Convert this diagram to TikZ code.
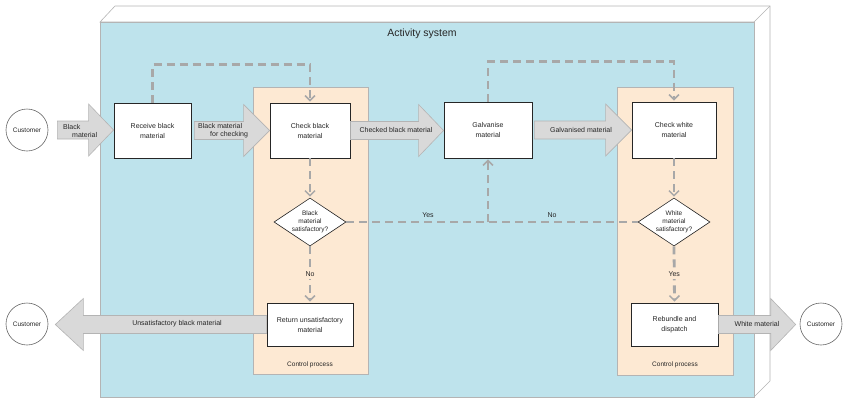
\documentclass[tikz,border=0pt]{standalone}
\usepackage{fontspec}
\setmainfont{Liberation Sans}
\usetikzlibrary{shapes.geometric,arrows.meta,calc}

\definecolor{sysblue}{HTML}{BEE3EC}
\definecolor{ctrlorange}{HTML}{FDE9D3}
\definecolor{flowgrey}{HTML}{D9D9D9}
\definecolor{edgegrey}{HTML}{B4B4B4}
\definecolor{dashgrey}{HTML}{A8A8A8}
\definecolor{inkgrey}{HTML}{262626}

\tikzset{
  task/.style={rectangle,draw=inkgrey,fill=white,line width=0.8pt,align=center,
    minimum width=80,minimum height=55,text=inkgrey,font=\fontsize{7}{10}\selectfont},
  test/.style={diamond,aspect=1.5,draw=inkgrey,fill=white,line width=0.6pt,align=center,
    inner sep=0pt,minimum width=72,minimum height=48,text=inkgrey,font=\fontsize{6.5}{8}\selectfont},
  party/.style={circle,draw=inkgrey!70,fill=white,line width=0.6pt,minimum size=42,
    inner sep=0pt,text=inkgrey,font=\fontsize{6.5}{8}\selectfont},
  fat arrow/.style={fill=flowgrey,draw=edgegrey,line width=0.6pt},
  flowtext/.style={font=\fontsize{7}{8}\selectfont,text=inkgrey,inner sep=0pt},
  check/.style={dashgrey,line width=2.8pt,dash pattern=on 8pt off 5pt},
  checkarrow/.style={check,shorten >=1pt,-{Straight Barb[length=5pt,width=10pt,line width=1.5pt]}},
  ctrl/.style={fill=ctrlorange,draw=edgegrey,line width=0.6pt},
}

% broad flow arrow: start, tip, signed head length
\newcommand{\fatarrow}[3]{%
  \path[fat arrow] let \p1=#1, \p2=#2 in
    (\x1,{\y1+9pt}) -- ({\x2-(#3)},{\y1+9pt}) -- ({\x2-(#3)},{\y1+26pt}) -- (\x2,\y1)
    -- ({\x2-(#3)},{\y1-26pt}) -- ({\x2-(#3)},{\y1-9pt}) -- (\x1,{\y1-9pt}) -- cycle;}

\begin{document}
\begin{tikzpicture}[x=1pt,y=-1pt]
\useasboundingbox (0,0) rectangle (854,408);
% activity system box
\draw[edgegrey,fill=white,line width=0.6pt] (100,22) -- (115,6) -- (770,6) -- (770,381) -- (754,397) -- (754,22) -- cycle;
\draw[edgegrey,line width=0.6pt] (754,22) -- (770,6);
\draw[fill=sysblue,draw=edgegrey,line width=0.6pt] (100,22) rectangle (754,397);
\node[text=inkgrey,font=\fontsize{10.5}{12}\selectfont] (title) at (422,34) {Activity system};
% control processes
\draw[ctrl] (253,87) rectangle (368,374);
\draw[ctrl] (617,87) rectangle (733,375);
\node[flowtext,font=\fontsize{6.5}{8}\selectfont] (ctrlb) at (310,365) {Control process};
\node[flowtext,font=\fontsize{6.5}{8}\selectfont] (ctrlw) at (675,365) {Control process};

\node[party] (custin) at (27,130) {Customer};
\node[party] (custret) at (27,324) {Customer};
\node[party] (custout) at (821,324) {Customer};
\node[task,minimum width=77] (recv) at (152.5,130.5) {Receive black\\material};
\node[task] (chkb) at (310,130.5) {Check black\\material};
\node[task,minimum width=88,minimum height=56] (galv) at (488,130) {Galvanise\\material};
\node[task,minimum width=84,minimum height=56] (chkw) at (674,130) {Check white\\material};
\node[test] (satb) at (310,222) {Black\\material\\satisfactory?};
\node[test] (satw) at (674,222) {White\\material\\satisfactory?};
\node[task,minimum width=86,minimum height=43] (ret) at (310,324.5) {Return unsatisfactory\\material};
\node[task,minimum width=87,minimum height=43] (reb) at (674.5,324.5) {Rebundle and\\dispatch};

% material flows
\fatarrow{([xshift=9pt]custin.east)}{(recv.west)}{25pt}
\fatarrow{([xshift=3pt]recv.east)}{(chkb.west)}{26pt}
\fatarrow{(chkb.east)}{(galv.west)}{25pt}
\fatarrow{([xshift=2pt]galv.east)}{(chkw.west)}{26pt}
\fatarrow{(ret.west)}{([xshift=7pt]custret.east)}{-28pt}
\fatarrow{(reb.east)}{([xshift=-4pt]custout.west)}{25pt}
\node[flowtext,align=left,anchor=west] (lblack) at (63,131) {Black\\\hspace*{9pt}material};
\node[flowtext,align=left,anchor=west] (lcheck) at (198,131) {Black material\\\hspace*{12pt}for checking};
\node[flowtext] (lchecked) at (396,130) {Checked black material};
\node[flowtext] (lgalv) at (581,130) {Galvanised material};
\node[flowtext] (lunsat) at (177,324) {Unsatisfactory black material};
\node[flowtext] (lwhite) at (757,324) {White material};

% control flows
\draw[checkarrow] (recv.north) -- ++(0,-38) -| (chkb.north);
\draw[checkarrow] (galv.north) -- ++(0,-40) -| (chkw.north);
\draw[checkarrow] (chkb.south) -- (satb.north);
\draw[checkarrow] (satb.south) -- node[flowtext,fill=ctrlorange,inner sep=2pt] (lno) {No} (ret.north);
\draw[check] (satb.east) -- (satw.west);
\node[flowtext] (lyes) at (428,215) {Yes};
\node[flowtext] (lnob) at (552,215) {No};
\coordinate (join) at (galv.south |- satb.east);
\draw[checkarrow] (join) -- (galv.south);
\draw[checkarrow] (chkw.south) -- (satw.north);
\draw[checkarrow] (satw.south) -- node[flowtext,fill=ctrlorange,inner sep=2pt] (lyesw) {Yes} (reb.north);
\end{tikzpicture}
\end{document}
